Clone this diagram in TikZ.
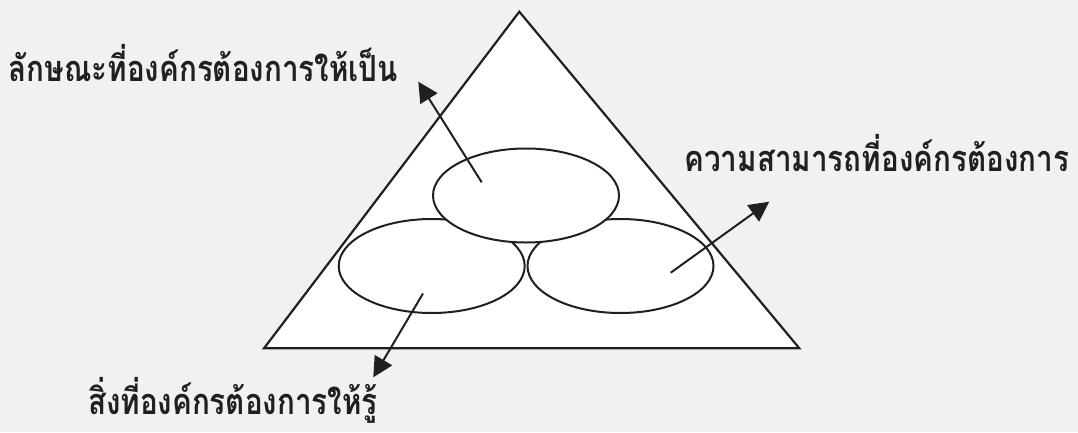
\documentclass[tikz,border=0pt]{standalone}
\usepackage{fontspec}
\newfontfamily\thaifont[Script=Thai]{Loma}
\usetikzlibrary{shapes.geometric,arrows.meta}
\definecolor{bg}{HTML}{F0F1F3}
\definecolor{ink}{HTML}{231F20}
\newcommand{\thaitext}[1]{\scalebox{1}[1.22]{\thaifont\bfseries\fontsize{29.6}{34}\selectfont #1}}
\tikzset{
  oval/.style={ellipse, draw=ink, line width=2pt, fill=white, inner sep=0pt, minimum width=186pt, minimum height=94pt},
  pointer/.style={draw=ink, line width=2pt, -{Triangle[length=20pt,width=20pt]}},
  lbl/.style={anchor=base west, inner sep=0pt, text=ink}
}
\begin{document}
\begin{tikzpicture}[x=1pt,y=-1pt]
\fill[bg] (0,0) rectangle (1078,432);
\useasboundingbox (0,0) rectangle (1078,432);
\coordinate (apex) at (519.3,11.7);
\coordinate (bl) at (264,348.3);
\coordinate (br) at (799.3,348.3);
\draw[ink, line width=2.2pt, fill=white, line join=miter] (apex) -- (br) -- (bl) -- cycle;
\node[oval] (left) at (431.7,266) {};
\node[oval] (right) at (620.5,266) {};
\node[oval] (top) at (526,195.5) {};
\coordinate (s1) at (481.7,182.3);
\coordinate (s2) at (670.7,272.7);
\coordinate (s3) at (423,293.5);
\node[lbl] (t1) at (8.6,81.7) {\thaitext{ลักษณะที่องค์กรต้องการให้เป็น}};
\node[lbl] (t2) at (684.3,171.7) {\thaitext{ความสามารถที่องค์กรต้องการ}};
\node[lbl] (t3) at (87.8,414) {\thaitext{สิ่งที่องค์กรต้องการให้รู้}};
\coordinate (e1) at (418.3,81.7);
\coordinate (e2) at (769.3,201.7);
\coordinate (e3) at (373.3,377.3);
\draw[pointer] (s1) -- (e1);
\draw[pointer] (s2) -- (e2);
\draw[pointer] (s3) -- (e3);
\end{tikzpicture}
\end{document}
